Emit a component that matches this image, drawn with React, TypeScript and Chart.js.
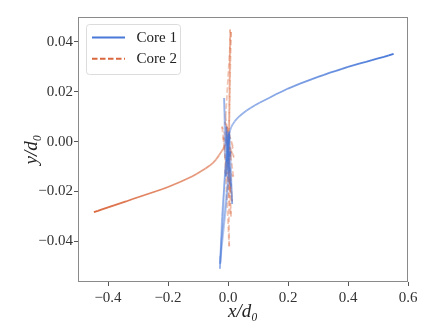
import React, { useEffect, useRef } from 'react';
import { Chart, registerables } from 'chart.js';

Chart.register(...registerables);

// ---- data (time ordered: oscillating near origin, then separating) ----
const core1X = [
  0.0, 0.004, -0.005, 0.006, -0.008, 0.01, -0.004, -0.013, -0.01, 0.004, -0.022, -0.027, -0.02, -0.004,
  0.006, 0.014, 0.008, -0.006, 0.002, -0.024, -0.026, -0.01, 0.005, -0.003, 0.008, -0.007, 0.004, 0.0,
  0.002, 0.004, 0.007, 0.011, 0.016, 0.022, 0.03, 0.04, 0.05, 0.062, 0.075, 0.09, 0.105, 0.12, 0.14,
  0.16, 0.18, 0.2, 0.22, 0.24, 0.26, 0.28, 0.3, 0.32, 0.34, 0.36, 0.38, 0.4, 0.42, 0.44, 0.46, 0.48,
  0.5, 0.52, 0.536, 0.552,
];
const core1Y = [
  0.0, -0.006, 0.004, -0.012, 0.002, -0.018, -0.008, 0.0175, -0.006, -0.01, -0.04, -0.051, -0.03, -0.004,
  0.002, -0.025, -0.012, 0.006, -0.016, -0.046, -0.049, -0.012, 0.003, -0.008, -0.004, -0.014, 0.004, -0.003,
  0.0015, 0.003, 0.0045, 0.0059, 0.007, 0.0081, 0.0092, 0.0104, 0.0114, 0.0125, 0.0135, 0.0146, 0.0156, 0.0165, 0.0177,
  0.019, 0.0201, 0.0213, 0.0223, 0.0233, 0.0242, 0.0251, 0.026, 0.0268, 0.0277, 0.0284, 0.0292, 0.03, 0.0307, 0.0314, 0.032, 0.0327,
  0.0334, 0.034, 0.0346, 0.0352,
];
const core2X = [
  0.0, -0.006, 0.008, -0.01, 0.004, 0.007, 0.003, -0.004, 0.012, -0.02, -0.012, 0.004, 0.002, 0.018,
  -0.008, 0.01, 0.002, 0.014, -0.006, 0.02, -0.016, 0.01, 0.006, -0.01, 0.016, -0.004, 0.008, 0.0, -0.002,
  -0.003, -0.006, -0.01, -0.016, -0.022, -0.03, -0.04, -0.05, -0.062, -0.075, -0.09, -0.105, -0.12, -0.14,
  -0.16, -0.18, -0.2, -0.22, -0.24, -0.26, -0.28, -0.3, -0.32, -0.34, -0.36, -0.38, -0.4, -0.42, -0.434, -0.447,
];
const core2Y = [
  -0.002, 0.004, -0.006, 0.008, 0.002, 0.045, 0.0, -0.01, -0.004, 0.006, -0.002, -0.042, -0.012, -0.014,
  0.01, 0.044, -0.004, -0.024, -0.008, -0.006, 0.002, -0.03, -0.016, -0.012, -0.002, 0.006, -0.02, -0.004, 0.001,
  0.0, -0.001, -0.0018, -0.0028, -0.004, -0.0055, -0.0072, -0.0085, -0.0097, -0.0108, -0.0119, -0.013, -0.014, -0.0151,
  -0.0162, -0.0172, -0.0182, -0.0191, -0.0199, -0.0207, -0.0215, -0.0223, -0.0231, -0.024, -0.0248, -0.0256, -0.0264, -0.0272, -0.0278, -0.0283,
];
const seriesNames = ['Core 1', 'Core 2'];
const xTicks = [-0.4, -0.2, 0.0, 0.2, 0.4, 0.6];
const yTicks = [-0.04, -0.02, 0.0, 0.02, 0.04];
const xRange = [-0.5, 0.6];
const yRange = [-0.0563, 0.05];

const BLUE = [72, 120, 216];
const ORANGE = [218, 104, 62];
const DASH = [5.5, 2.5];
const rgba = (c: number[], a: number) => `rgba(${c[0]},${c[1]},${c[2]},${a})`;
const SERIF = '"Liberation Serif", "DejaVu Serif", serif';

const fmt = (v: number, d: number) => {
  const s = Math.abs(v).toFixed(d);
  return v < -1e-9 ? '\u2212' + s : s;
};

const framePlugin = {
  id: 'frame',
  afterDatasetsDraw(chart: any) {
    const { ctx, chartArea: a } = chart;
    ctx.save();
    ctx.strokeStyle = '#8a8a8a';
    ctx.lineWidth = 1;
    ctx.strokeRect(Math.round(a.left) + 0.5, Math.round(a.top) + 0.5, Math.round(a.right - a.left) - 1, Math.round(a.bottom - a.top) - 1);
    ctx.restore();
  },
};

const legendPlugin = {
  id: 'boxLegend',
  afterDraw(chart: any) {
    const { ctx, chartArea: a } = chart;
    const x0 = a.left + 8.5;
    const y0 = a.top + 7.5;
    const w = 94;
    const h = 50;
    ctx.save();
    ctx.beginPath();
    if (ctx.roundRect) ctx.roundRect(x0, y0, w, h, 3);
    else ctx.rect(x0, y0, w, h);
    ctx.fillStyle = 'rgba(255,255,255,0.85)';
    ctx.fill();
    ctx.strokeStyle = '#dcdcdc';
    ctx.lineWidth = 1;
    ctx.stroke();
    const ds = chart.data.datasets;
    const cols = [BLUE, ORANGE];
    ds.forEach((d: any, i: number) => {
      const yy = y0 + 13 + i * 21.3;
      ctx.beginPath();
      ctx.setLineDash(i === 1 ? DASH : []);
      ctx.strokeStyle = rgba(cols[i], 1);
      ctx.lineWidth = 2;
      ctx.moveTo(x0 + 5.5, yy);
      ctx.lineTo(x0 + 38.5, yy);
      ctx.stroke();
      ctx.setLineDash([]);
      ctx.fillStyle = '#222';
      ctx.font = `15px ${SERIF}`;
      ctx.textBaseline = 'middle';
      ctx.textAlign = 'left';
      ctx.fillText(d.label, x0 + 50, yy + 0.5);
    });
    ctx.restore();
  },
};

function makeData(xs: number[], ys: number[]) {
  return xs.map((x, i) => ({ x, y: ys[i] }));
}

// each segment is stroked on its own (alpha grows with time); like a line
// collection, the dash pattern restarts per segment, so short pieces look solid
function segColor(c: number[], n: number) {
  return (ctx: any) => {
    const t = ctx.p0DataIndex / (n - 2);
    return rgba(c, 0.33 + 0.67 * Math.pow(t, 1.8));
  };
}
function segDash(dash: number[]) {
  return (ctx: any) => {
    const dx = ctx.p1.x - ctx.p0.x;
    const dy = ctx.p1.y - ctx.p0.y;
    return Math.hypot(dx, dy) > dash[0] + 2 ? dash : [];
  };
}

export default function App() {
  const ref = useRef<HTMLCanvasElement | null>(null);
  useEffect(() => {
    if (!ref.current) return;
    const chart = new Chart(ref.current, {
      type: 'line',
      data: {
        datasets: [
          {
            label: seriesNames[0],
            data: makeData(core1X, core1Y),
            borderColor: rgba(BLUE, 1),
            borderWidth: 1.8,
            pointRadius: 0,
            tension: 0,
            segment: { borderColor: segColor(BLUE, core1X.length) },
          },
          {
            label: seriesNames[1],
            data: makeData(core2X, core2Y),
            borderColor: rgba(ORANGE, 1),
            borderWidth: 1.8,
            borderDash: DASH,
            pointRadius: 0,
            tension: 0,
            segment: { borderColor: segColor(ORANGE, core2X.length), borderDash: segDash(DASH) },
          },
        ],
      },
      options: {
        animation: false,
        responsive: false,
        maintainAspectRatio: false,
        layout: { padding: { top: 17, right: 28, left: 0, bottom: 0 } },
        plugins: { legend: { display: false }, tooltip: { enabled: false } },
        scales: {
          x: {
            type: 'linear',
            min: xRange[0],
            max: xRange[1],
            afterBuildTicks: (s: any) => { s.ticks = xTicks.map((v) => ({ value: v })); },
            afterFit: (s: any) => { s.height = 52; },
            grid: { drawOnChartArea: false, drawTicks: true, tickLength: 4, color: '#555' },
            border: { display: false },
            ticks: {
              font: { family: SERIF, size: 15 },
              color: '#333',
              padding: 3,
              maxRotation: 0,
              callback: (v: any) => fmt(Number(v), 1),
            },
            title: {
              display: true,
              text: 'x/d\u2080',
              font: { family: SERIF, size: 19, style: 'italic' },
              color: '#222',
              padding: { top: 0, bottom: 11 },
            },
          },
          y: {
            type: 'linear',
            min: yRange[0],
            max: yRange[1],
            afterBuildTicks: (s: any) => { s.ticks = yTicks.map((v) => ({ value: v })); },
            afterFit: (s: any) => { s.width = 78; },
            grid: { drawOnChartArea: false, drawTicks: true, tickLength: 4, color: '#555' },
            border: { display: false },
            ticks: {
              font: { family: SERIF, size: 15 },
              color: '#333',
              padding: 1,
              callback: (v: any) => fmt(Number(v), 2),
            },
            title: {
              display: true,
              text: 'y/d\u2080',
              font: { family: SERIF, size: 19, style: 'italic' },
              color: '#222',
              padding: { top: 21, bottom: 0 },
            },
          },
        },
      },
      plugins: [framePlugin, legendPlugin],
    } as any);
    return () => chart.destroy();
  }, []);
  return (
    <div style={{ position: 'fixed', left: 0, top: 0, width: 436, height: 334, background: '#fff' }}>
      <canvas ref={ref} width={436} height={334} style={{ width: 436, height: 334, display: 'block' }} />
    </div>
  );
}
